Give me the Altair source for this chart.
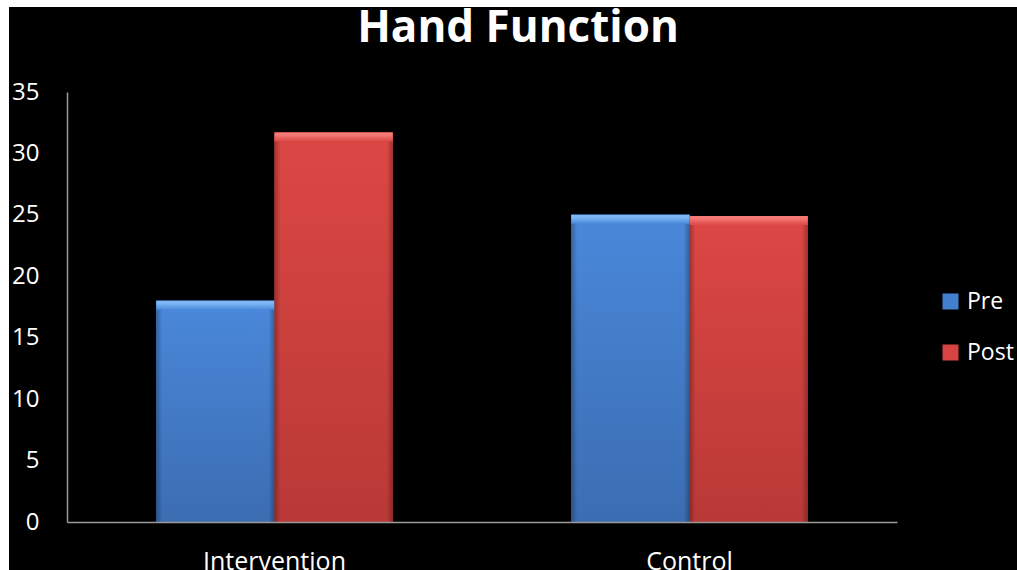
import altair as alt
import pandas as pd

# Hand function scores, before and after, for each group
chart_title = "Hand Function"
groups = ["Intervention", "Control"]
series = ["Pre", "Post"]
pre_values = [18.0, 25.0]
post_values = [31.7, 24.9]

y_ticks = [0, 5, 10, 15, 20, 25, 30, 35]

base_colors = {"Pre": "#4480D0", "Post": "#D64441"}
light_colors = {"Pre": "#7DB8F6", "Post": "#F47A76"}
top_colors = {"Pre": "#4A88DA", "Post": "#DC4744"}
bottom_colors = {"Pre": "#3B6DB2", "Post": "#B93936"}

rows = []
for g, pre, post in zip(groups, pre_values, post_values):
    rows.append({"group": g, "series": "Pre", "value": pre})
    rows.append({"group": g, "series": "Post", "value": post})
df = pd.DataFrame(rows)

FONT = "Open Sans"

x_enc = alt.X(
    "group:N",
    sort=groups,
    title=None,
    scale=alt.Scale(paddingInner=0.43, paddingOuter=0.215),
    axis=alt.Axis(
        labelColor="white", labelFontSize=25, labelFont=FONT, labelAngle=0,
        labelPadding=27, ticks=False, domainColor="#9A9A9A", domainWidth=1.5,
        zindex=1,
    ),
)
xoff_enc = alt.XOffset("series:N", sort=series)
y_enc = alt.Y(
    "value:Q",
    title=None,
    scale=alt.Scale(domain=[0, 35], nice=False),
    axis=alt.Axis(
        values=y_ticks, labelColor="white", labelFontSize=24, labelFont=FONT,
        labelPadding=28, ticks=False, grid=False, domainColor="#9A9A9A",
        domainWidth=1.5, zindex=1,
    ),
)

# dark panel behind the chart
panel = alt.Chart(pd.DataFrame({"k": [0]})).mark_rect(color="black").encode(
    x=alt.value(-58), x2=alt.value(950), y=alt.value(-85), y2=alt.value(478)
)

# solid bars carry the legend
bars = alt.Chart(df).mark_bar().encode(
    x=x_enc,
    xOffset=xoff_enc,
    y=y_enc,
    color=alt.Color(
        "series:N",
        sort=series,
        scale=alt.Scale(domain=series, range=[base_colors[s] for s in series]),
        legend=alt.Legend(
            title=None, orient="none", legendX=872, legendY=198,
            symbolType="square", symbolSize=256, symbolStrokeWidth=0,
            labelColor="white", labelFontSize=23, labelFont=FONT,
            labelOffset=5, rowPadding=27,
        ),
    ),
)

layers = [panel, bars]
for s in series:
    sub = alt.Chart(df).transform_filter(alt.datum.series == s)
    # body shading, lighter at the top
    body = sub.mark_bar(
        fill=alt.Gradient(
            gradient="linear", x1=0, x2=0, y1=0, y2=1,
            stops=[alt.GradientStop(color=top_colors[s], offset=0),
                   alt.GradientStop(color=bottom_colors[s], offset=1)],
        )
    ).encode(x=x_enc, xOffset=xoff_enc, y=y_enc)
    # darker side edges
    edges = sub.mark_bar(
        fill=alt.Gradient(
            gradient="linear", x1=0, x2=1, y1=0, y2=0,
            stops=[alt.GradientStop(color="rgba(0,0,0,0.28)", offset=0),
                   alt.GradientStop(color="rgba(0,0,0,0)", offset=0.05),
                   alt.GradientStop(color="rgba(0,0,0,0)", offset=0.95),
                   alt.GradientStop(color="rgba(0,0,0,0.28)", offset=1)],
        )
    ).encode(x=x_enc, xOffset=xoff_enc, y=y_enc)
    # bevelled top strip
    bevel = sub.mark_bar(
        y2Offset=9,
        fill=alt.Gradient(
            gradient="linear", x1=0, x2=0, y1=0, y2=1,
            stops=[alt.GradientStop(color=light_colors[s], offset=0),
                   alt.GradientStop(color=light_colors[s], offset=0.25),
                   alt.GradientStop(color=top_colors[s], offset=1)],
        ),
    ).encode(x=x_enc, xOffset=xoff_enc, y=y_enc, y2=alt.Y2("value:Q"))
    layers += [body, edges, bevel]

# heading drawn above the panel
heading = alt.Chart(pd.DataFrame({"title": [chart_title]})).mark_text(
    color="white", fontSize=44, font=FONT, fontWeight="bold",
    align="center", baseline="alphabetic",
).encode(text="title:N", x=alt.value(451), y=alt.value(-50))
layers.append(heading)

chart = (
    alt.layer(*layers)
    .properties(
        width=830,
        height=430,
        autosize=alt.AutoSizeParams(type="none"),
        padding={"left": 67, "top": 92, "right": 120, "bottom": 48},
        background="white",
    )
    .configure_view(stroke=None)
)

chart.save("out.html", embed_options={"renderer": "svg", "actions": False})
